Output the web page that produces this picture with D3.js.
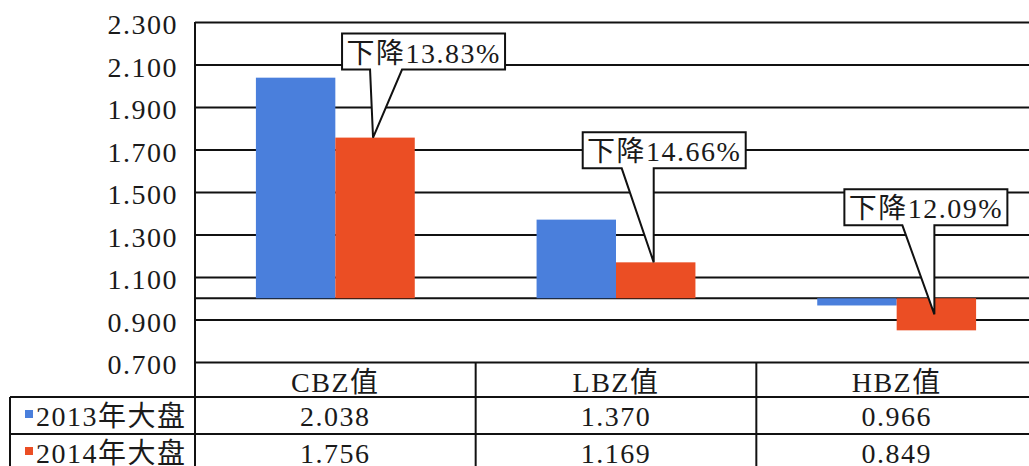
<!DOCTYPE html>
<html><head><meta charset="utf-8">
<script src="https://cdn.jsdelivr.net/npm/d3@7"></script>
<style>
body{margin:0;background:#fff;}
text{font-family:"Liberation Serif","Times New Roman","Noto Sans CJK SC",serif;font-size:28px;fill:#1a1a1a;letter-spacing:1.5px;}
</style></head><body>
<svg id="c" width="1029" height="466"></svg>
<script>
const categories = ["CBZ值","LBZ值","HBZ值"];
const seriesNames = ["2013年大盘","2014年大盘"];
const values2013 = [2.038, 1.370, 0.966];
const values2014 = [1.756, 1.169, 0.849];
const yTicks = [0.7, 0.9, 1.1, 1.3, 1.5, 1.7, 1.9, 2.1, 2.3];
const calloutLabels = ["下降13.83%","下降14.66%","下降12.09%"];
const baseValue = 1.0;

(function(){
const colors = ["#4a7fdc", "#eb4e24"];
const series = [values2013, values2014];

const svg = d3.select("#c");
const pL = 195, pR = 1037, pT = 22, pB = 362;
const rowH = [35, 37, 36];

const x0 = d3.scaleBand().domain(categories).range([pL, pR]).padding(0);
const bw = x0.bandwidth();
const x1 = d3.scaleBand().domain(seriesNames).range([bw*0.217, bw*0.783]).padding(0);
const y = d3.scaleLinear().domain([0.7, 2.3]).range([pB, pT]);

const ax = svg.append("g").attr("transform", `translate(${pL},0)`)
  .call(d3.axisLeft(y).tickValues(yTicks).tickFormat(d3.format(".3f")).tickSizeInner(-(pR-pL)).tickSizeOuter(0).tickPadding(16));
ax.select(".domain").remove();
ax.selectAll(".tick line").attr("stroke", "#111").attr("stroke-width", 2);
ax.selectAll(".tick text").attr("fill", "#1a1a1a").attr("dy", "0.42em").attr("x", -17);
ax.attr("font-family", null).attr("font-size", null);

svg.append("line").attr("x1", pL).attr("x2", pR).attr("y1", y(baseValue)).attr("y2", y(baseValue))
  .attr("stroke", "#111").attr("stroke-width", 2);

categories.forEach((c, ci) => {
  series.forEach((s, si) => {
    const v = s[ci];
    svg.append("rect")
      .attr("x", x0(c) + x1(seriesNames[si]))
      .attr("width", x1.bandwidth())
      .attr("y", y(Math.max(v, baseValue)))
      .attr("height", Math.abs(y(v) - y(baseValue)))
      .attr("fill", colors[si]);
  });
});

const g = svg.append("g").attr("stroke", "#111").attr("stroke-width", 2);
const r1 = pB + rowH[0], r2 = r1 + rowH[1], r3 = r2 + rowH[2];
[r1, r2, r3].forEach(r => g.append("line").attr("x1", 10).attr("x2", pR).attr("y1", r).attr("y2", r));
g.append("line").attr("x1", 10).attr("x2", 10).attr("y1", r1).attr("y2", 480);
g.append("line").attr("x1", pL).attr("x2", pL).attr("y1", pT).attr("y2", 480);
categories.forEach((c, ci) => {
  if (ci > 0) g.append("line").attr("x1", x0(c)).attr("x2", x0(c)).attr("y1", pB).attr("y2", 480);
});

categories.forEach((c, ci) => {
  const cx = x0(c) + bw/2;
  svg.append("text").attr("x", cx).attr("y", pB + 30).attr("text-anchor", "middle").text(c);
  series.forEach((s, si) => {
    svg.append("text").attr("x", cx).attr("y", (si === 0 ? r1 : r2) + 29).attr("text-anchor", "middle")
      .text(d3.format(".3f")(s[ci]));
  });
});
seriesNames.forEach((n, si) => {
  const ry = si === 0 ? r1 : r2;
  svg.append("rect").attr("x", 25).attr("y", ry + 13).attr("width", 8).attr("height", 8).attr("fill", colors[si]);
  svg.append("text").attr("x", 36).attr("y", ry + 29).text(n);
});

const calloutLayout = [
  {dx: -31, dy: -104, side: "right"},
  {dx: -71, dy: -130, side: "left"},
  {dx: -90, dy: -125, side: "left"}
];
const boxW = 163, boxH = 36, wedgeW = 32;
categories.forEach((c, ci) => {
  const v = values2014[ci];
  const tx = x0(c) + x1(seriesNames[1]) + x1.bandwidth()/2 - 2;
  const ty = v >= baseValue ? y(v) : (y(v) + y(baseValue)) / 2;
  const L = calloutLayout[ci];
  const bx = tx + L.dx, by = ty + L.dy;
  const wa = L.side === "right" ? tx - 3 : tx - wedgeW;
  const wb = wa + wedgeW;
  const path = `M${bx},${by} H${bx+boxW} V${by+boxH} H${wb} L${tx},${ty} L${wa},${by+boxH} H${bx} Z`;
  svg.append("path").attr("d", path).attr("fill", "#fff").attr("stroke", "#111").attr("stroke-width", 2);
  svg.append("text").attr("x", bx + boxW/2).attr("y", by + boxH - 7).attr("text-anchor", "middle").text(calloutLabels[ci]);
});
})();
</script></body></html>
